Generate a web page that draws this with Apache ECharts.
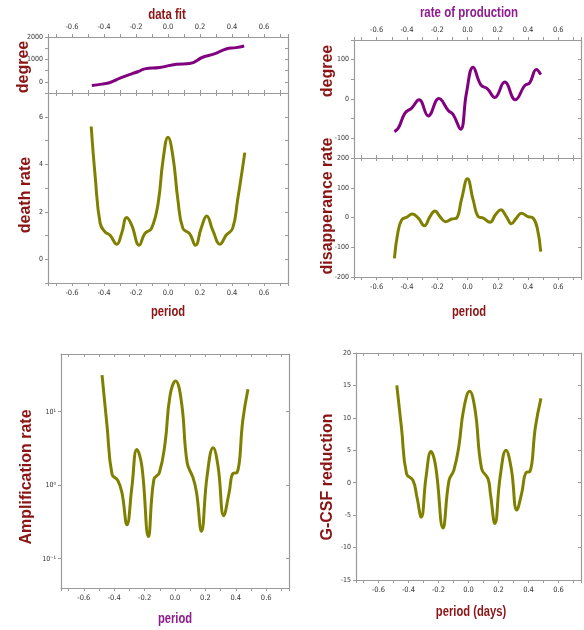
<!DOCTYPE html>
<html><head><meta charset="utf-8">
<script src="https://cdn.jsdelivr.net/npm/echarts@6/dist/echarts.min.js"></script>
<style>html,body{margin:0;padding:0;background:#fff}#c{width:584px;height:630px}</style>
</head><body><div id="c"></div>
<script>
// ---- data ----
const dfX = [-0.476,-0.414,-0.362,-0.30,-0.227,-0.185,-0.145,-0.052,0.052,0.135,0.217,0.29,0.363,0.425,0.476];
const dfY = [-163,-103,-30,163,356,460,578,637,785,815,1096,1244,1467,1526,1600];

const drX = [-0.48,-0.455,-0.424,-0.393,-0.362,-0.32,-0.29,-0.258,-0.227,-0.18,-0.145,-0.103,-0.062,-0.031,0,0.031,0.062,0.093,0.135,0.172,0.207,0.242,0.28,0.325,0.363,0.404,0.435,0.48];
const drY = [5.59,3.48,1.51,1.15,1.01,0.63,1.08,1.76,1.44,0.59,1.08,1.30,2.35,4.18,5.14,4.32,2.49,1.30,1.08,0.59,1.30,1.82,1.22,0.63,1.01,1.30,2.49,4.49];

const rpX = [-0.483,-0.457,-0.413,-0.369,-0.32,-0.259,-0.189,-0.127,-0.094,-0.046,-0.007,0.037,0.088,0.132,0.18,0.246,0.316,0.378,0.411,0.455,0.484];
const rpY = [-83,-74,-36,-23,-2,-43,1,-29,-40,-77,15,81,36,26,4,43,-2,34,41,75,62];

const dsX = [-0.483,-0.461,-0.435,-0.402,-0.365,-0.325,-0.285,-0.248,-0.215,-0.182,-0.145,-0.105,-0.073,-0.04,0,0.037,0.071,0.104,0.148,0.185,0.22,0.257,0.29,0.323,0.356,0.4,0.433,0.461,0.484];
const dsY = [-137,-53,-8,1,12,-2,-28,3,22,3,-14,-5,-2,60,130,60,3,-2,-16,9,26,3,-21,-2,14,3,-2,-36,-115];

const amX = [-0.48,-0.447,-0.414,-0.377,-0.349,-0.316,-0.283,-0.251,-0.218,-0.175,-0.139,-0.103,-0.065,-0.033,0.004,0.043,0.08,0.119,0.142,0.174,0.211,0.251,0.283,0.321,0.356,0.382,0.408,0.447,0.48];
const amY = [31.4,6.4,1.40,1.17,0.79,0.29,0.97,3.07,1.82,0.20,1.2,1.48,3.79,16.4,26.2,13.3,2.02,1.26,0.79,0.236,1.33,3.24,1.82,0.386,0.79,1.45,1.48,7.9,20.2];

const gcX = [-0.478,-0.446,-0.413,-0.37,-0.344,-0.315,-0.283,-0.25,-0.218,-0.17,-0.13,-0.098,-0.065,-0.033,0.007,0.044,0.087,0.13,0.146,0.176,0.211,0.25,0.285,0.322,0.354,0.385,0.409,0.446,0.483];
const gcY = [15.0,8.3,1.39,0.35,-2.2,-5.3,0.9,4.8,2.4,-7.0,0.35,1.9,5.5,11.2,14.1,11.2,2.2,0.6,-1.7,-6.3,0.9,5.0,2.2,-4.2,-1.7,1.6,1.7,8.6,13.0];

// ---- styling ----
const TICKF = "'DejaVu Sans Condensed','Liberation Sans Narrow',sans-serif";
const BOLD = "'Liberation Sans',Arial,sans-serif";
const RED = '#8b1414', PURP = '#8e1c8e';
const LINE_P = '#800080', LINE_O = '#808000';
const AX = '#9a9a9a';

const pairs = (xs, ys) => xs.map((x, i) => [x, ys[i]]);

const xFmt = v => {
  const t = Math.round(v * 10);
  if (Math.abs(v * 10 - t) > 1e-6 || t % 2 !== 0) return '';
  return (t / 10).toFixed(1);
};

function xAxis(grid, position, labels) {
  return {
    type: 'value', gridIndex: grid, position, min: -0.75, max: 0.75, splitNumber: 15,
    axisLine: { show: true, onZero: false, lineStyle: { color: AX, width: 1.2 } },
    axisTick: { show: true, inside: !labels, length: 3, lineStyle: { color: AX } },
    axisLabel: { show: labels, interval: 0, formatter: xFmt, fontSize: 7.5, color: '#333', fontFamily: TICKF, margin: 6 },
    splitLine: { show: false }
  };
}
function yAxis(grid, position, labels, o) {
  return Object.assign({
    type: 'value', gridIndex: grid, position,
    axisLine: { show: true, onZero: false, lineStyle: { color: AX, width: 1.2 } },
    axisTick: { show: true, inside: !labels, length: 3, lineStyle: { color: AX } },
    axisLabel: { show: labels, interval: 0, fontSize: 7, color: '#333', fontFamily: TICKF, margin: 5,
                 formatter: o.fmt || (v => String(v)), showMinLabel: o.showMin, showMaxLabel: o.showMax },
    splitLine: { show: false }
  }, o.ax);
}

const grids = [
  { left: 48, top: 37, width: 240, height: 56 },
  { left: 48, top: 93, width: 240, height: 190 },
  { left: 354, top: 40, width: 229, height: 118 },
  { left: 354, top: 158, width: 229, height: 119 },
  { left: 61, top: 354, width: 228, height: 234 },
  { left: 356, top: 353, width: 227, height: 227 }
];

const yDefs = [
  { ax: { min: -500, max: 2000, interval: 500 }, fmt: v => (v >= 0 && v % 1000 === 0) ? String(v) : '' },
  { ax: { min: -1, max: 7, interval: 1 }, fmt: v => (v >= 0 && v <= 6 && v % 2 === 0) ? String(v) : '' },
  { ax: { min: -150, max: 150, interval: 50 }, fmt: v => (v % 100 === 0) ? String(v) : '' },
  { ax: { min: -200, max: 200, interval: 100 } },
  { ax: { type: 'log', logBase: 10, min: 0.04, max: 61 }, showMin: false, showMax: false,
    fmt: v => { const e = Math.round(Math.log10(v)); return e === 1 ? '10¹' : e === 0 ? '10⁰' : e === -1 ? '10⁻¹' : ''; } },
  { ax: { min: -15, max: 20, interval: 5 } }
];

const xAxes = [], yAxes = [];
const labelTop = [true, false, true, false, false, false];
for (let g = 0; g < 6; g++) {
  xAxes.push(xAxis(g, labelTop[g] ? 'top' : 'bottom', true));
  xAxes.push(xAxis(g, labelTop[g] ? 'bottom' : 'top', false));
  yAxes.push(yAxis(g, 'left', true, yDefs[g]));
  yAxes.push(yAxis(g, 'right', false, Object.assign({}, yDefs[g], { fmt: () => '' })));
}

const seriesDefs = [
  [dfX, dfY, LINE_P], [drX, drY, LINE_O], [rpX, rpY, LINE_P],
  [dsX, dsY, LINE_O], [amX, amY, LINE_O], [gcX, gcY, LINE_O]
];
const series = seriesDefs.map((d, g) => ({
  type: 'line', xAxisIndex: 2 * g, yAxisIndex: 2 * g, data: pairs(d[0], d[1]),
  smooth: 0.45, showSymbol: false, symbol: 'none', silent: true,
  lineStyle: { color: d[2], width: 3 }, clip: true
}));

function txt(text, x, y, size, color, rot, sx) {
  return { type: 'text', x, y, rotation: rot ? Math.PI / 2 : 0, scaleX: sx || 1, silent: true,
    style: { text, fill: color, font: 'bold ' + size + 'px ' + BOLD, textAlign: 'center', textVerticalAlign: 'middle' } };
}
const graphic = [
  txt('data fit', 167, 15, 14, RED, false, 0.82),
  txt('degree', 24, 67, 16, RED, true),
  txt('death rate', 26, 195, 16, RED, true),
  txt('period', 168, 312, 14, RED, false, 0.8),
  txt('rate of production', 469, 13, 14, PURP, false, 0.82),
  txt('degree', 328, 71, 16, RED, true),
  txt('disapperance rate', 328, 206, 16, RED, true),
  txt('period', 469, 312, 14, RED, false, 0.8),
  txt('Amplification rate', 27, 477, 16, RED, true),
  txt('period', 175, 619, 14, PURP, false, 0.8),
  txt('G-CSF reduction', 328, 477, 16, RED, true),
  txt('period (days)', 471, 612, 14, RED, false, 0.8)
];

const chart = echarts.init(document.getElementById('c'), null, { renderer: 'canvas' });
chart.setOption({
  backgroundColor: '#fff', animation: false,
  grid: grids, xAxis: xAxes, yAxis: yAxes, series, graphic
});
</script></body></html>
